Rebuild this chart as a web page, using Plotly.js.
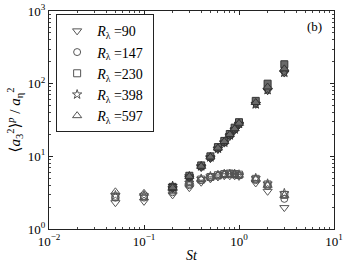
<!DOCTYPE html>
<html>
<head>
<meta charset="utf-8">
<script src="https://cdn.plot.ly/plotly-3.0.1.min.js"></script>
<style>html,body{margin:0;padding:0;background:#fff}#chart{width:348px;height:263px}</style>
</head>
<body>
<div id="chart"></div>
<script>
// Stokes numbers
const stAll = [0.05, 0.1, 0.2, 0.3, 0.4, 0.5, 0.6, 0.7, 0.8, 0.9, 1.0, 1.5, 2, 3];
const stUpper = [0.2, 0.3, 0.4, 0.5, 0.6, 0.7, 0.8, 0.9, 1.0, 1.5, 2, 3];

const reLabels = ["90", "147", "230", "398", "597"];

// tick labels
const xTickVals = [0.01, 0.1, 1, 10];
const xTickText = ["10<sup>−2</sup>", "10<sup>−1</sup>", "10<sup>0</sup>", "10<sup>1</sup>"];
const yTickVals = [1, 10, 100, 1000];
const yTickText = ["10<sup>0</sup>", "10<sup>1</sup>", "10<sup>2</sup>", "10<sup>3</sup>"];

// lower branch (open markers)
const open90  = [2.3, 2.4, 2.95, 3.7, 4.4, 4.9, 5.2, 5.4, 5.4, 5.4, 5.3, 4.3, 3.3, 1.97];
const open147 = [2.7, 2.7, 3.2, 4.0, 4.7, 5.1, 5.4, 5.6, 5.7, 5.6, 5.5, 4.7, 3.9, 2.6];
const open230 = [2.8, 2.8, 3.4, 4.2, 4.8, 5.2, 5.5, 5.7, 5.8, 5.7, 5.6, 4.9, 4.1, 2.95];
const open398 = [2.9, 2.9, 3.5, 4.3, 4.9, 5.3, 5.5, 5.7, 5.7, 5.7, 5.6, 5.0, 4.2, 3.1];
const open597 = [3.25, 3.1, 3.6, 4.4, 4.8, 5.2, 5.5, 5.6, 5.6, 5.6, 5.5, 4.9, 4.0, 2.9];

// upper branch (filled markers)
const fill90  = [3.6, 5.0, 7.0, 9.3, 12.4, 15.2, 18.7, 22.8, 27, 52, 80, 140];
const fill147 = [3.7, 5.2, 7.2, 9.6, 12.8, 15.7, 19.4, 23.6, 28, 55, 88, 155];
const fill230 = [3.8, 5.4, 7.5, 10, 13.4, 16.3, 20.3, 24.8, 29.5, 58, 100, 185];
const fill398 = [3.9, 5.3, 7.3, 9.7, 12.8, 15.5, 19.5, 23.5, 28, 52, 82, 142];
const fill597 = [3.7, 5.3, 7.3, 9.8, 13.0, 16.0, 20.0, 24.0, 28.5, 55, 90, 160];

const openSets = [open90, open147, open230, open398, open597];
const fillSets = [fill90, fill147, fill230, fill398, fill597];
const symbols = ["triangle-down-open", "circle-open", "square-open", "star-open", "triangle-up-open"];
const fsymbols = ["triangle-down", "circle", "square", "star", "triangle-up"];
const sizes = [8, 7, 7, 7, 8];

const FONT = "Liberation Serif, DejaVu Serif, serif";
const traces = [];
openSets.forEach((ys, i) => {
  traces.push({
    x: stAll, y: ys, type: "scatter", mode: "markers",
    name: "<i>R</i><sub>λ</sub> =" + reLabels[i] + " ",
    marker: {symbol: symbols[i], size: sizes[i], color: "#555", line: {width: 1, color: "#555"}},
    showlegend: true
  });
});
fillSets.forEach((ys, i) => {
  traces.push({
    x: stUpper, y: ys, type: "scatter", mode: "markers",
    name: "filled " + reLabels[i],
    marker: {symbol: fsymbols[i], size: sizes[i], color: "#6a6a6a", line: {width: 1, color: "#333"}},
    showlegend: false
  });
});

const axisCommon = {
  type: "log", showgrid: false, zeroline: false,
  showline: true, linecolor: "#222", linewidth: 1, mirror: "allticks",
  ticks: "inside", ticklen: 4, tickcolor: "#222",
  tickmode: "array",
  tickfont: {family: FONT, size: 13, color: "#000"},
  minor: {ticks: "inside", ticklen: 2, tickcolor: "#444", showgrid: false, dtick: "D1"}
};

const layout = {
  width: 348, height: 263,
  margin: {l: 49, r: 14, t: 11, b: 34},
  paper_bgcolor: "#fff", plot_bgcolor: "#fff",
  font: {family: FONT, size: 13, color: "#000"},
  xaxis: Object.assign({}, axisCommon, {
    range: [-2, 1], tickvals: xTickVals, ticktext: xTickText,
    title: {text: "<i>St</i>", font: {family: FONT, size: 14}, standoff: 2}
  }),
  yaxis: Object.assign({}, axisCommon, {
    range: [0, 3], tickvals: yTickVals, ticktext: yTickText,
    title: {text: "⟨<i>a</i><sub>3</sub><sup>2</sup>⟩<sup><i>p</i></sup> / <i>a</i><sub>η</sub><sup>2</sup>", font: {family: FONT, size: 15}, standoff: 3}
  }),
  legend: {
    x: 0.025, y: 0.985, xanchor: "left", yanchor: "top",
    bgcolor: "#fff", bordercolor: "#222", borderwidth: 1,
    font: {family: FONT, size: 14}, tracegroupgap: 0, itemwidth: 30
  },
  annotations: [{
    text: "(b)", xref: "paper", yref: "paper", x: 0.965, y: 0.93,
    xanchor: "right", yanchor: "middle", showarrow: false,
    font: {family: FONT, size: 13, color: "#000"}
  }]
};

Plotly.newPlot("chart", traces, layout, {displayModeBar: false, staticPlot: true});
</script>
</body>
</html>
